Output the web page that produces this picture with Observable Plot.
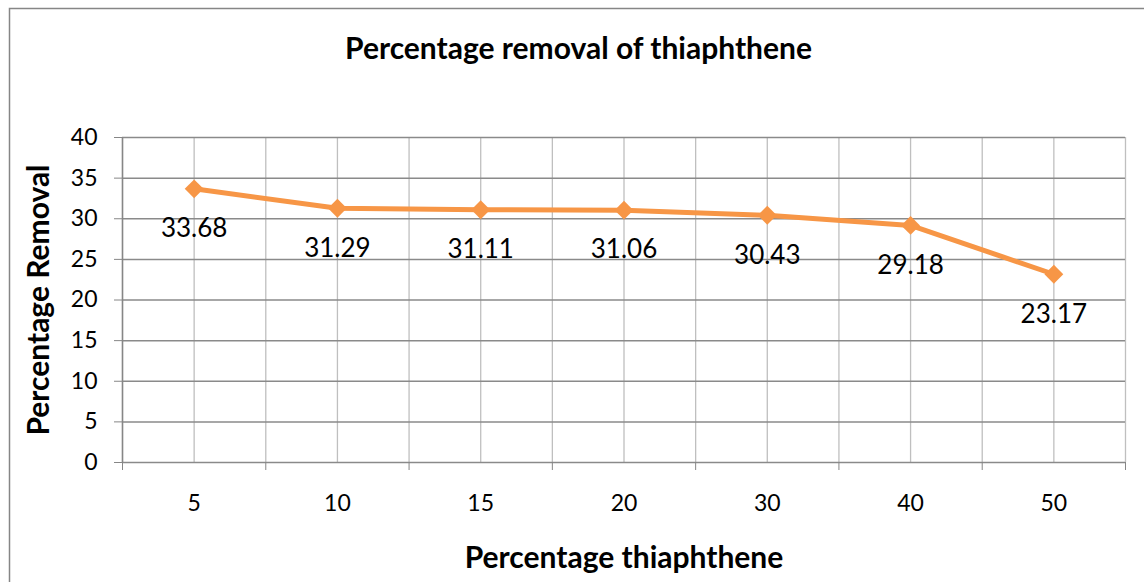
<!DOCTYPE html>
<html>
<head>
<meta charset="utf-8">
<script src="https://cdn.jsdelivr.net/npm/d3@7"></script>
<script src="https://cdn.jsdelivr.net/npm/@observablehq/plot@0.6"></script>
<style>
  html, body { margin: 0; padding: 0; background: white; }
  #chart svg { display: block; }
</style>
</head>
<body>
<div id="chart"></div>
<script>
const categories = ["5", "10", "15", "20", "30", "40", "50"];
const removal = [33.68, 31.29, 31.11, 31.06, 30.43, 29.18, 23.17];
const yTicks = [0, 5, 10, 15, 20, 25, 30, 35, 40];
const chartTitle = "Percentage removal of thiaphthene";
const xTitle = "Percentage thiaphthene";
const yTitle = "Percentage Removal";

const data = categories.map((c, i) => ({i, c, v: removal[i]}));
const centers = d3.range(categories.length);
const boundaries = d3.range(-0.5, categories.length, 1);
const halfLines = d3.range(-0.5, categories.length, 0.5);

const font = "Lato, 'Open Sans', sans-serif";

const svg = Plot.plot({
  width: 1144,
  height: 582,
  marginLeft: 122,
  marginRight: 19,
  marginTop: 137,
  marginBottom: 120,
  style: {fontFamily: font, background: "white", color: "black"},
  x: {type: "linear", domain: [-0.5, categories.length - 0.5]},
  y: {domain: [0, 40]},
  marks: [
    Plot.ruleX(halfLines, {stroke: "#bfbfbf", strokeWidth: 1.3}),
    Plot.ruleY(yTicks, {stroke: "#8a8a8a", strokeWidth: 1.5}),
    Plot.ruleX([-0.5], {stroke: "#868686", strokeWidth: 1.5}),
    Plot.axisY({ticks: yTicks, tickSize: 8, tickFormat: () => "", label: null, stroke: "#868686"}),
    Plot.axisX({ticks: boundaries, tickSize: 8, tickFormat: () => "", label: null, stroke: "#868686"}),
    Plot.text(yTicks, {x: -0.5, y: d => d, text: d => String(d), textAnchor: "end", lineAnchor: "middle", dx: -25, fontSize: 23, fill: "black"}),
    Plot.text(centers, {x: d => d, frameAnchor: "bottom", lineAnchor: "middle", dy: 41, text: i => categories[i], fontSize: 23, fill: "black"}),
    Plot.line(data, {x: "i", y: "v", stroke: "#F79646", strokeWidth: 5, strokeLinejoin: "round"}),
    Plot.dot(data, {x: "i", y: "v", symbol: "diamond2", r: 8.5, fill: "#F79646", stroke: "none"}),
    Plot.text(data, {x: "i", y: "v", text: d => d.v.toFixed(2), dy: 40, lineAnchor: "middle", fontSize: 26, fill: "black"}),
    Plot.text([chartTitle], {frameAnchor: "top-left", dx: 456, dy: -88.6, textAnchor: "middle", lineAnchor: "middle", fontSize: 30, fontWeight: "bold", fill: "black"}),
    Plot.text([xTitle], {frameAnchor: "bottom", dy: 95.4, textAnchor: "middle", lineAnchor: "middle", fontSize: 30, fontWeight: "bold", fill: "black"}),
    Plot.text([yTitle], {frameAnchor: "left", dx: -83.6, rotate: -90, textAnchor: "middle", lineAnchor: "middle", fontSize: 30, fontWeight: "bold", fill: "black"})
  ]
});

d3.select(svg).insert("rect", ":first-child")
  .attr("x", 9.5).attr("y", 8.5).attr("width", 1137).attr("height", 700)
  .attr("fill", "none").attr("stroke", "#868686").attr("stroke-width", 1.5);

document.getElementById("chart").appendChild(svg);
</script>
</body>
</html>
